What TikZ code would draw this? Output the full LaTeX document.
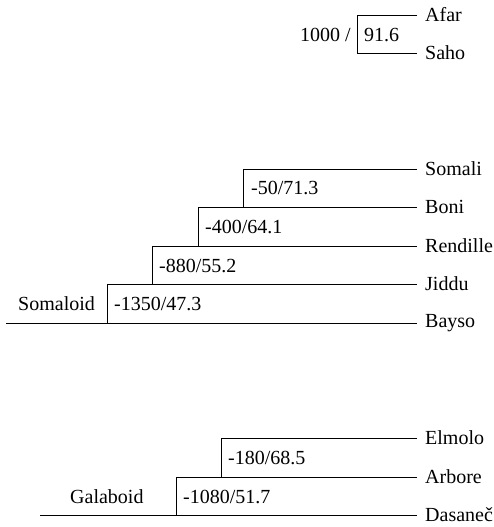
\documentclass[tikz,border=0pt]{standalone}
\usepackage{fontspec}
\setmainfont{Liberation Serif}
\usetikzlibrary{positioning}

\tikzset{
  branch/.style={draw=black,line width=0.9pt},
  leaf/.style={anchor=west,inner xsep=8pt,inner ysep=0pt,font=\fontsize{20}{24}\selectfont},
  lbl/.style={anchor=base west,inner sep=0pt,font=\fontsize{20}{24}\selectfont}
}

\begin{document}
\begin{tikzpicture}[x=1pt,y=-1pt]
\useasboundingbox (0,0) rectangle (493,527);

% Afar / Saho
\node[leaf] (afar) at (417,15) {Afar};
\node[leaf] (saho) at (417,53) {Saho};
\coordinate (afsa) at (357,53);
\draw[branch] (afar.west) -| (afsa) -- (saho.west);
\node[lbl] (afsaA) at (300,41.5) {1000 /};
\node[lbl] (afsaB) at (364,41.5) {91.6};

% Somaloid
\node[leaf] (somali) at (417,169) {Somali};
\node[leaf] (boni) at (417,207) {Boni};
\node[leaf] (rendille) at (417,246) {Rendille};
\node[leaf] (jiddu) at (417,284) {Jiddu};
\node[leaf] (bayso) at (417,323) {Bayso};
\coordinate (sroot) at (6,323);
\coordinate (s1) at (107,323);
\coordinate (s2) at (152,284);
\coordinate (s3) at (198,246);
\coordinate (s4) at (243,207);
\draw[branch] (sroot) -- (bayso.west);
\draw[branch] (s1) |- (jiddu.west);
\draw[branch] (s2) |- (rendille.west);
\draw[branch] (s3) |- (boni.west);
\draw[branch] (s4) |- (somali.west);
\node[lbl] (s4lbl) at (251,194.5) {-50/71.3};
\node[lbl] (s3lbl) at (205,233.5) {-400/64.1};
\node[lbl] (s2lbl) at (159,272) {-880/55.2};
\node[lbl] (s1lbl) at (114,310.5) {-1350/47.3};
\node[lbl] (slbl) at (18,310.5) {Somaloid};

% Galaboid
\node[leaf] (elmolo) at (417,438) {Elmolo};
\node[leaf] (arbore) at (417,477) {Arbore};
\node[leaf] (dasanec) at (417,515) {Dasaneč};
\coordinate (groot) at (40,515);
\coordinate (g1) at (176,515);
\coordinate (g2) at (221,477);
\draw[branch] (groot) -- (dasanec.west);
\draw[branch] (g1) |- (arbore.west);
\draw[branch] (g2) |- (elmolo.west);
\node[lbl] (g2lbl) at (228,464.5) {-180/68.5};
\node[lbl] (g1lbl) at (183,503) {-1080/51.7};
\node[lbl] (glbl) at (70,503) {Galaboid};

\end{tikzpicture}
\end{document}
